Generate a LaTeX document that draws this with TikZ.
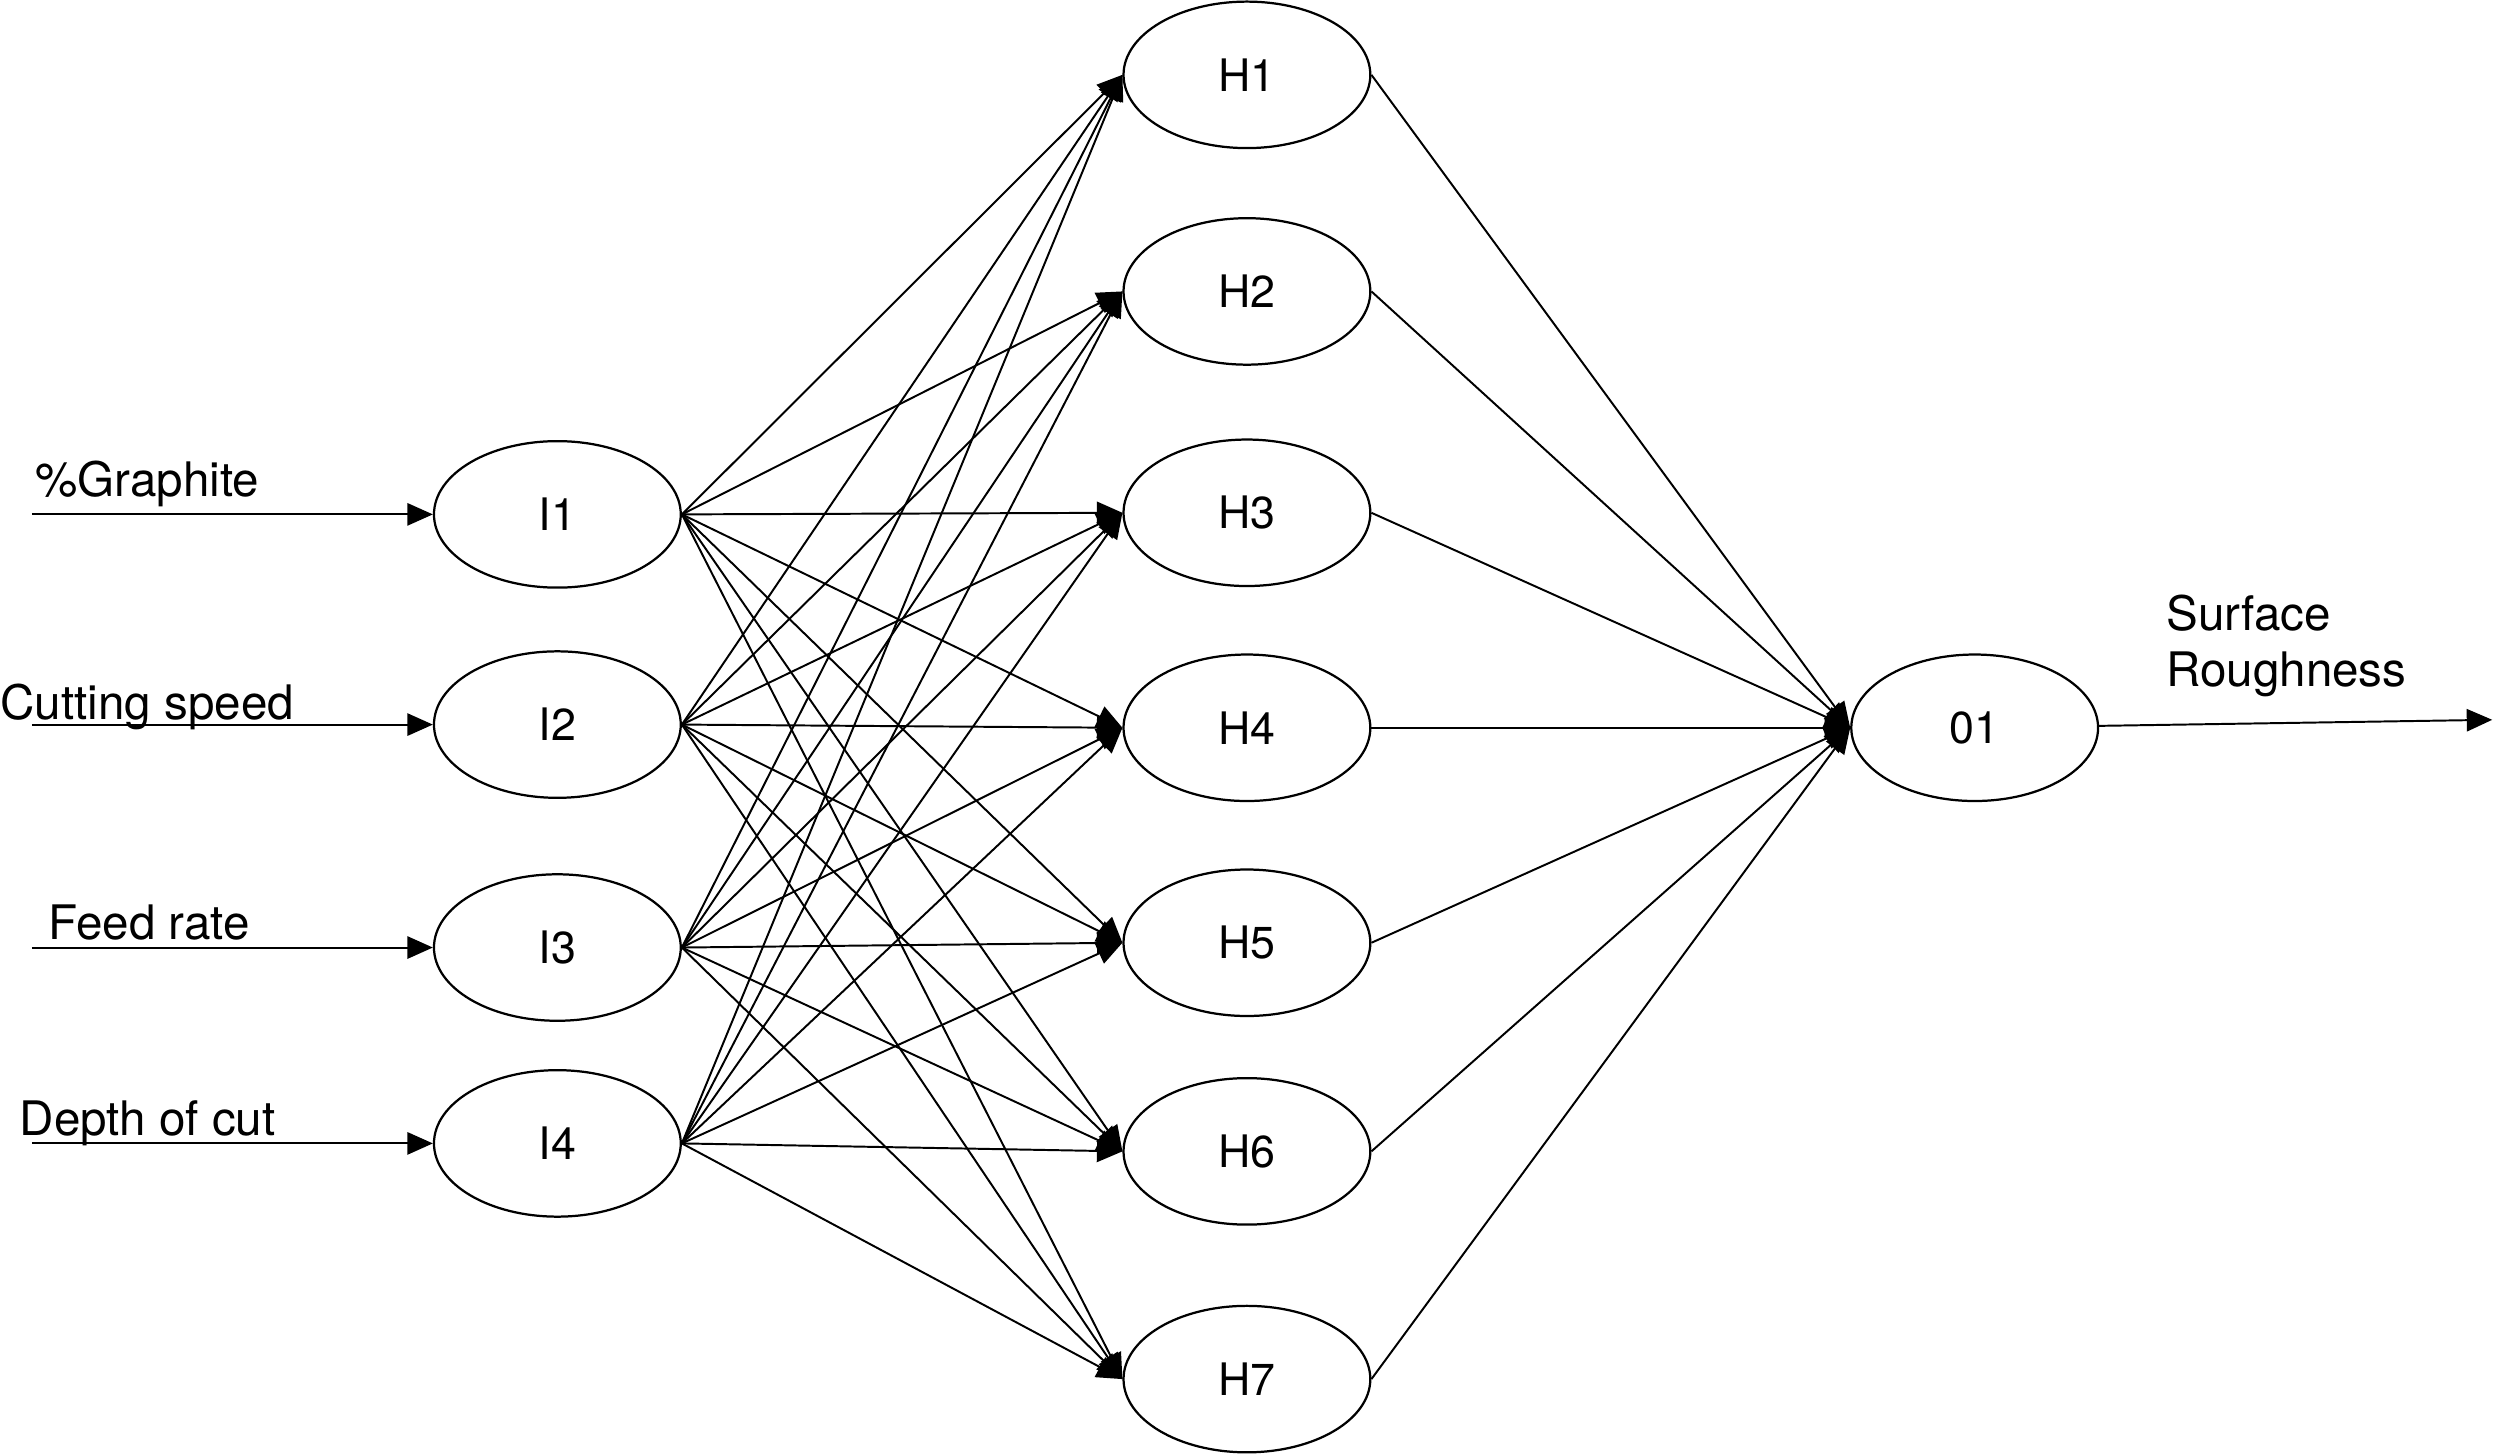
\documentclass[tikz,border=0pt]{standalone}
\usepackage{fontspec}
\setmainfont{TeX Gyre Heros}
\usetikzlibrary{shapes,arrows.meta,positioning}

\begin{document}
\begin{tikzpicture}[x=0.02cm, y=-0.02cm,
    neuron/.style={ellipse, draw, line width=0.8pt, minimum width=3.1cm, minimum height=1.84cm, font=\fontsize{16}{19}\selectfont},
    conn/.style={-{Triangle[length=0.32cm,width=0.28cm]}, line width=0.7pt},
    lbl/.style={font=\fontsize{17}{20}\selectfont, inner sep=0pt}
]
\useasboundingbox (0,0) rectangle (1568,913);

% Input layer
\node[neuron] (i1) at (350,323) {I1};
\node[neuron] (i2) at (350,455) {I2};
\node[neuron] (i3) at (350,595) {I3};
\node[neuron] (i4) at (350,718) {I4};

% Hidden layer
\node[neuron] (h1) at (783,47) {H1};
\node[neuron] (h2) at (783,183) {H2};
\node[neuron] (h3) at (783,322) {H3};
\node[neuron] (h4) at (783,457) {H4};
\node[neuron] (h5) at (783,592) {H5};
\node[neuron] (h6) at (783,723) {H6};
\node[neuron] (h7) at (783,866) {H7};

% Output layer
\node[neuron] (o1) at (1240,457) {01};

% Inputs
\coordinate (graphite) at (20,323);
\coordinate (speed) at (20,455);
\coordinate (feed) at (20,595);
\coordinate (depth) at (20,718);
\node[lbl, anchor=base west] (lgraphite) at (22,312) {\%Graphite};
\node[lbl, anchor=base west] (lspeed) at (0,452) {Cutting speed};
\node[lbl, anchor=base west] (lfeed) at (30,590) {Feed rate};
\node[lbl, anchor=base west] (ldepth) at (12,713) {Depth of cut};
\draw[conn] (graphite) -- (i1);
\draw[conn] (speed) -- (i2);
\draw[conn] (feed) -- (i3);
\draw[conn] (depth) -- (i4);

% Input to hidden
\draw[conn] (i1.east) -- (h1.west);
\draw[conn] (i1.east) -- (h2.west);
\draw[conn] (i1.east) -- (h3.west);
\draw[conn] (i1.east) -- (h4.west);
\draw[conn] (i1.east) -- (h5.west);
\draw[conn] (i1.east) -- (h6.west);
\draw[conn] (i1.east) -- (h7.west);
\draw[conn] (i2.east) -- (h1.west);
\draw[conn] (i2.east) -- (h2.west);
\draw[conn] (i2.east) -- (h3.west);
\draw[conn] (i2.east) -- (h4.west);
\draw[conn] (i2.east) -- (h5.west);
\draw[conn] (i2.east) -- (h6.west);
\draw[conn] (i2.east) -- (h7.west);
\draw[conn] (i3.east) -- (h1.west);
\draw[conn] (i3.east) -- (h2.west);
\draw[conn] (i3.east) -- (h3.west);
\draw[conn] (i3.east) -- (h4.west);
\draw[conn] (i3.east) -- (h5.west);
\draw[conn] (i3.east) -- (h6.west);
\draw[conn] (i3.east) -- (h7.west);
\draw[conn] (i4.east) -- (h1.west);
\draw[conn] (i4.east) -- (h2.west);
\draw[conn] (i4.east) -- (h3.west);
\draw[conn] (i4.east) -- (h4.west);
\draw[conn] (i4.east) -- (h5.west);
\draw[conn] (i4.east) -- (h6.west);
\draw[conn] (i4.east) -- (h7.west);

% Hidden to output
\draw[conn] (h1.east) -- (o1.west);
\draw[conn] (h2.east) -- (o1.west);
\draw[conn] (h3.east) -- (o1.west);
\draw[conn] (h4.east) -- (o1.west);
\draw[conn] (h5.east) -- (o1.west);
\draw[conn] (h6.east) -- (o1.west);
\draw[conn] (h7.east) -- (o1.west);

% Output
\coordinate (roughness) at (1565,452);
\node[lbl, anchor=north west, align=left] (lroughness) at (1360,373) {Surface\\Roughness};
\draw[conn] (o1) -- (roughness);

\end{tikzpicture}
\end{document}
